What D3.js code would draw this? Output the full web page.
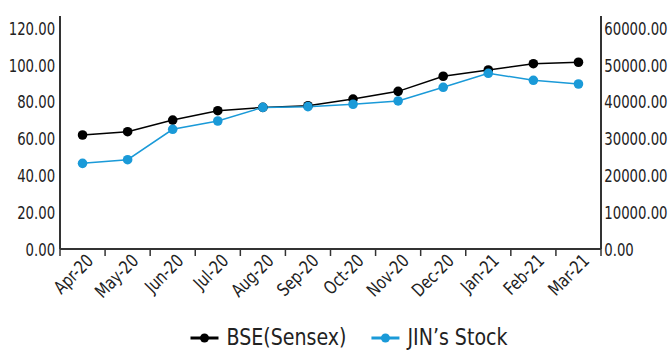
<!DOCTYPE html>
<html>
<head>
<meta charset="utf-8">
<script src="https://cdn.jsdelivr.net/npm/d3@7"></script>
<style>
  html, body { margin: 0; padding: 0; background: #fff; }
  svg text { font-family: "Liberation Sans Narrow", "DejaVu Sans Condensed", sans-serif; fill: #222; }
</style>
</head>
<body>
<div id="chart"></div>
<script>
// months on the x axis
const months = ["Apr-20", "May-20", "Jun-20", "Jul-20", "Aug-20", "Sep-20",
                "Oct-20", "Nov-20", "Dec-20", "Jan-21", "Feb-21", "Mar-21"];
// BSE Sensex (right axis)
const bseValues = [30950, 31850, 35000, 37550, 38450, 38900, 40700, 42800, 46900, 48600, 50300, 50700];
// JIN's stock price (left axis)
const jinValues = [46.5, 48.5, 65.0, 69.5, 76.9, 77.3, 78.6, 80.4, 87.8, 95.4, 91.6, 89.6];
const leftTicks = [0, 20, 40, 60, 80, 100, 120];
const rightTicks = [0, 10000, 20000, 30000, 40000, 50000, 60000];

const width = 668, height = 351;
const mLeft = 60, mRight = 601, mTop = 16, mBottom = 249;
const blue = "#1a9ad8";
const squeeze = 0.82; // the original font is narrower than DejaVu Condensed

const svg = d3.select("#chart").append("svg")
    .attr("width", width)
    .attr("height", height);

const x = d3.scaleBand().domain(months).range([mLeft, mRight]);
const yL = d3.scaleLinear().domain([0, 120]).range([mBottom, 28]);
const yR = d3.scaleLinear().domain([0, 60000]).range([mBottom, 28]);

// left axis
const gl = svg.append("g")
    .attr("transform", "translate(" + mLeft + ",0)")
    .call(d3.axisLeft(yL).tickValues(leftTicks).tickSize(0).tickPadding(6)
        .tickFormat(d3.format(".2f")));
gl.select(".domain").remove();
gl.selectAll("text").attr("font-size", 18).attr("dy", "0.35em")
    .attr("transform", "scale(" + squeeze + ",1)");

// right axis
const gr = svg.append("g")
    .attr("transform", "translate(" + mRight + ",0)")
    .call(d3.axisRight(yR).tickValues(rightTicks).tickSize(0).tickPadding(4)
        .tickFormat(d3.format(".2f")));
gr.select(".domain").remove();
gr.selectAll("text").attr("font-size", 18).attr("dy", "0.35em")
    .attr("transform", "scale(" + squeeze + ",1)");

// axis lines reach above the last tick
[mLeft, mRight].forEach(function (px) {
    svg.append("line")
        .attr("x1", px).attr("x2", px)
        .attr("y1", mTop).attr("y2", mBottom)
        .attr("stroke", "#333")
        .attr("stroke-width", 2);
});

// x axis
const gx = svg.append("g").attr("transform", "translate(0," + mBottom + ")");
gx.append("line")
    .attr("x1", mLeft).attr("x2", mRight)
    .attr("stroke", "#333").attr("stroke-width", 2);
gx.selectAll(".tk")
    .data(months.concat(["end"]))
    .enter().append("line")
    .attr("class", "tk")
    .attr("x1", function (d, i) { return mLeft + i * x.step(); })
    .attr("x2", function (d, i) { return mLeft + i * x.step(); })
    .attr("y1", 0).attr("y2", 7)
    .attr("stroke", "#333").attr("stroke-width", 1.5);
gx.selectAll(".lbl")
    .data(months)
    .enter().append("text")
    .attr("class", "lbl")
    .attr("font-size", 18)
    .attr("text-anchor", "end")
    .attr("transform", function (d) {
        return "translate(" + (x(d) + x.bandwidth() / 2 + 3) + ",4) rotate(-45) scale(0.88,1)";
    })
    .attr("dy", "0.7em")
    .text(function (d) { return d; });

const cx = function (d, i) { return x(months[i]) + x.bandwidth() / 2; };

// BSE line
svg.append("path")
    .datum(bseValues)
    .attr("fill", "none")
    .attr("stroke", "#000")
    .attr("stroke-width", 1.5)
    .attr("d", d3.line().x(cx).y(function (d) { return yR(d); }));

// JIN line
svg.append("path")
    .datum(jinValues)
    .attr("fill", "none")
    .attr("stroke", blue)
    .attr("stroke-width", 1.5)
    .attr("d", d3.line().x(cx).y(function (d) { return yL(d); }));

svg.selectAll(".dotb")
    .data(bseValues)
    .enter().append("circle")
    .attr("class", "dotb")
    .attr("cx", cx)
    .attr("cy", function (d) { return yR(d); })
    .attr("r", 4.8)
    .attr("fill", "#000");

svg.selectAll(".dotj")
    .data(jinValues)
    .enter().append("circle")
    .attr("class", "dotj")
    .attr("cx", cx)
    .attr("cy", function (d) { return yL(d); })
    .attr("r", 4.8)
    .attr("fill", blue);

// legend
const legendItems = [
    { name: "BSE(Sensex)", color: "#000" },
    { name: "JIN\u2019s Stock", color: blue }
];
const legendSqueeze = 0.92;
const legend = svg.append("g");
let offset = 0;
legendItems.forEach(function (item, i) {
    const g = legend.append("g").attr("transform", "translate(" + offset + ",0)");
    g.append("line")
        .attr("x1", 0).attr("x2", 28)
        .attr("y1", 338).attr("y2", 338)
        .attr("stroke", item.color).attr("stroke-width", 3);
    g.append("circle")
        .attr("cx", 14).attr("cy", 338).attr("r", 4.5)
        .attr("fill", item.color);
    const t = g.append("text")
        .attr("transform", "translate(36,345) scale(" + legendSqueeze + ",1)")
        .attr("font-size", 23)
        .text(item.name);
    offset += 36 + t.node().getComputedTextLength() * legendSqueeze + 25;
});
const legendWidth = offset - 25;
legend.attr("transform", "translate(" + (349 - legendWidth / 2) + ",0)");
</script>
</body>
</html>
